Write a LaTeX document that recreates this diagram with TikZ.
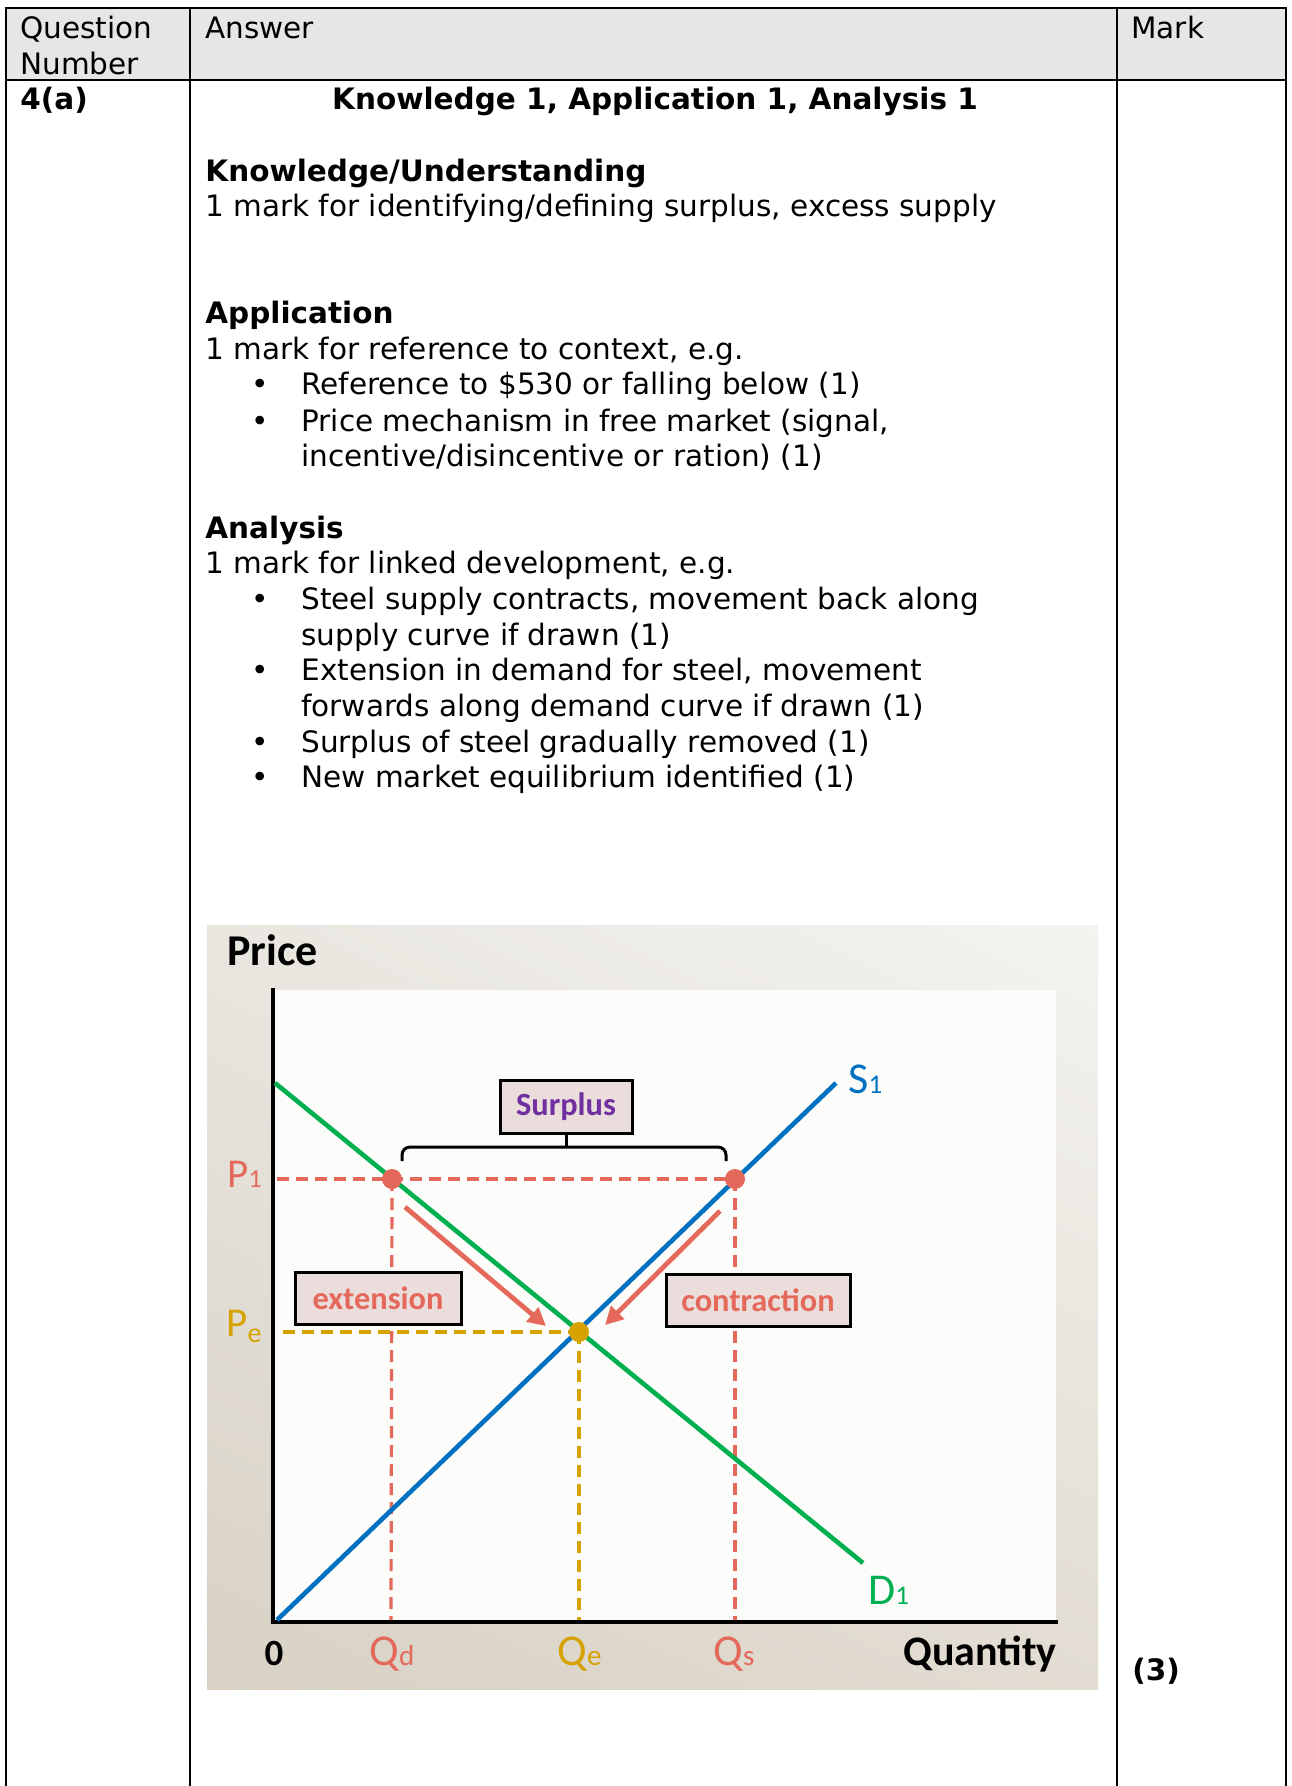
\documentclass[tikz,border=0pt]{standalone}
\usepackage{fontspec}
\setmainfont{DejaVu Sans}
\newfontfamily\cf{Carlito}
\usetikzlibrary{arrows.meta,shadings}
\definecolor{hdrgray}{HTML}{E6E6E6}
\definecolor{salmon}{HTML}{E5695B}
\definecolor{gold}{HTML}{D6A200}
\definecolor{dgreen}{HTML}{00B050}
\definecolor{sblue}{HTML}{0070C0}
\definecolor{purp}{HTML}{7030A0}
\definecolor{boxfill}{HTML}{EBDDDB}
\definecolor{plotwhite}{HTML}{FCFCFB}
\definecolor{bgUL}{RGB}{233,230,224}
\definecolor{bgUR}{RGB}{244,243,240}
\definecolor{bgLL}{RGB}{216,209,196}
\definecolor{bgLR}{RGB}{226,220,210}
\begin{document}
\begin{tikzpicture}[x=0.5pt,y=-0.5pt,
  tx/.style={anchor=base west, inner sep=0pt, font=\fontsize{14.75}{17.85}\selectfont},
  tb/.style={anchor=base west, inner sep=0pt, font=\fontsize{14.75}{17.85}\selectfont\bfseries},
  bul/.style={anchor=base, inner sep=0pt, font=\fontsize{14.75}{17.85}\selectfont},
  rule/.style={line width=1pt, black},
  lbl/.style={anchor=base west, inner sep=0pt, font=\cf\fontsize{22}{22}\selectfont},
  axislbl/.style={inner sep=0pt, font=\cf\bfseries\fontsize{21}{21}\selectfont},
  tagbox/.style={draw=black, line width=1.5pt, fill=boxfill, inner sep=0pt, font=\cf\bfseries\fontsize{16.2}{16.2}\selectfont},
  reddash/.style={salmon, line width=1.6pt, dash pattern=on 6pt off 3.5pt},
  golddash/.style={gold, line width=1.6pt, dash pattern=on 6pt off 3.5pt},
  curve/.style={line width=2.3pt},
  movearrow/.style={salmon, line width=2.4pt, -{Triangle[length=9pt,width=9pt]}},
  dot/.style={circle, inner sep=0pt, minimum size=10pt}
]
\useasboundingbox (0,0) rectangle (1291,1786);
\fill[white] (0,0) rectangle (1291,1786);
% ---------- table ----------
\fill[hdrgray] (6,8) rectangle (1286,80);
\draw[rule] (6,1786) -- (6,8) -- (1286,8) -- (1286,1786);
\draw[rule] (6,80) -- (1286,80);
\draw[rule] (190,8) -- (190,1786);
\draw[rule] (1117,8) -- (1117,1786);

\node[tx] (hq1) at (20,39) {Question};
\node[tx] (hq2) at (20,74.5) {Number};
\node[tx] (ha) at (205,39) {Answer};
\node[tx] (hm) at (1131,39) {Mark};

\node[tb] (qn) at (20,110) {4(a)};
\node[tb, anchor=base] (head) at (655,110) {Knowledge 1, Application 1, Analysis 1};

\node[tb] (k1) at (205,181.5) {Knowledge/Understanding};
\node[tx] (k2) at (205,217) {1 mark for identifying/defining surplus, excess supply};

\node[tb] (a1) at (205,324) {Application};
\node[tx] (a2) at (205,359.5) {1 mark for reference to context, e.g.};
\node[bul] (ab1) at (260,395) {•};
\node[tx] (a3) at (301,395) {Reference to \$530 or falling below (1)};
\node[bul] (ab2) at (260,431) {•};
\node[tx] (a4) at (301,431) {Price mechanism in free market (signal,};
\node[tx] (a5) at (301,466.5) {incentive/disincentive or ration) (1)};

\node[tb] (n1) at (205,538) {Analysis};
\node[tx] (n2) at (205,573.5) {1 mark for linked development, e.g.};
\node[bul] (nb1) at (260,609) {•};
\node[tx] (n3) at (301,609) {Steel supply contracts, movement back along};
\node[tx] (n4) at (301,645) {supply curve if drawn (1)};
\node[bul] (nb2) at (260,680.5) {•};
\node[tx] (n5) at (301,680.5) {Extension in demand for steel, movement};
\node[tx] (n6) at (301,716) {forwards along demand curve if drawn (1)};
\node[bul] (nb3) at (260,752) {•};
\node[tx] (n7) at (301,752) {Surplus of steel gradually removed (1)};
\node[bul] (nb4) at (260,787.5) {•};
\node[tx] (n8) at (301,787.5) {New market equilibrium identified (1)};

\node[tb] (mk) at (1132,1680) {(3)};

% ---------- chart ----------
\shade[shading=bilinear interpolation, upper left=bgUL, upper right=bgUR,
       lower left=bgLL, lower right=bgLR]
  (207,925) rectangle (1098,1689);
\fill[plotwhite] (273,990) rectangle (1056,1622);

\coordinate (O) at (273,1622);
\coordinate (Dstart) at (275,1083);
\coordinate (Dend) at (863,1563);
\coordinate (Sstart) at (277,1620);
\coordinate (Send) at (836,1083);
\coordinate (A) at (392,1179);
\coordinate (B) at (735,1179);
\coordinate (E) at (579,1332);
\coordinate (P1y) at (277,1179);
\coordinate (Pey) at (283,1332);
\coordinate (Qdx) at (391,1620);
\coordinate (Qsx) at (735,1620);
\coordinate (Qex) at (579,1620);

% dashed guides
\draw[reddash] (P1y) -- (B);
\draw[reddash] (A) -- (Qdx);
\draw[reddash] (B) -- (Qsx);
\draw[golddash] (Pey) -- (E);
\draw[golddash] (E) -- (Qex);

% axes
\draw[line width=2pt, line cap=rect] (273,990) -- (O) -- (1056,1622);

% curves
\draw[curve, dgreen] (Dstart) -- (Dend);
\draw[curve, sblue] (Sstart) -- (Send);

% points
\node[dot, fill=salmon] (ptA) at (A) {};
\node[dot, fill=salmon] (ptB) at (B) {};
\node[dot, fill=gold] (ptE) at (E) {};

% movement arrows
\coordinate (ext0) at (405,1207);
\coordinate (ext1) at (546,1326);
\coordinate (con0) at (720,1211);
\coordinate (con1) at (605,1325);
\draw[movearrow] (ext0) -- (ext1);
\draw[movearrow] (con0) -- (con1);

% boxes
\node[tagbox, minimum width=66pt, minimum height=26.5pt, text=purp] (surplus) at (566,1106.5) {Surplus};
\node[tagbox, minimum width=83pt, minimum height=26pt, text=salmon] (extension) at (378,1298) {extension};
\node[tagbox, minimum width=92pt, minimum height=26pt, text=salmon] (contraction) at (758,1300) {contraction};

% bracket
\coordinate (brL) at (402,1161);
\coordinate (brR) at (726,1161);
\coordinate (brM) at (566,1147);
\draw[line width=1.5pt, rounded corners=4pt] (brL) -- (402,1147) -- (726,1147) -- (brR);
\draw[line width=1.5pt] (surplus.south) -- (brM);

% labels
\node[axislbl, anchor=base west, font=\cf\bfseries\fontsize{22}{22}\selectfont] (price) at (227,965) {Price};
\node[axislbl, anchor=base east] (quantity) at (1057,1665) {Quantity};
\node[inner sep=0pt, anchor=base, font=\cf\bfseries\fontsize{18.5}{18.5}\selectfont] (zero) at (274,1665) {0};

\node[lbl, text=salmon, font=\cf\fontsize{20.5}{20.5}\selectfont] (P1) at (227,1187) {P{\fontsize{13}{13}\selectfont 1}};
\node[lbl, text=gold, font=\cf\fontsize{20.5}{20.5}\selectfont] (Pe) at (226,1336) {P\raisebox{-3pt}{\fontsize{14}{14}\selectfont e}};
\node[lbl, text=sblue] (S1) at (848,1093) {S{\fontsize{13.5}{13.5}\selectfont 1}};
\node[lbl, text=dgreen] (D1) at (868,1604) {D{\fontsize{13.5}{13.5}\selectfont 1}};
\node[lbl, text=salmon] (Qd) at (369,1665) {Q{\fontsize{14.5}{14.5}\selectfont d}};
\node[lbl, text=gold] (Qe) at (557,1665) {Q{\fontsize{14.5}{14.5}\selectfont e}};
\node[lbl, text=salmon] (Qs) at (713,1665) {Q{\fontsize{14.5}{14.5}\selectfont s}};
\end{tikzpicture}
\end{document}
